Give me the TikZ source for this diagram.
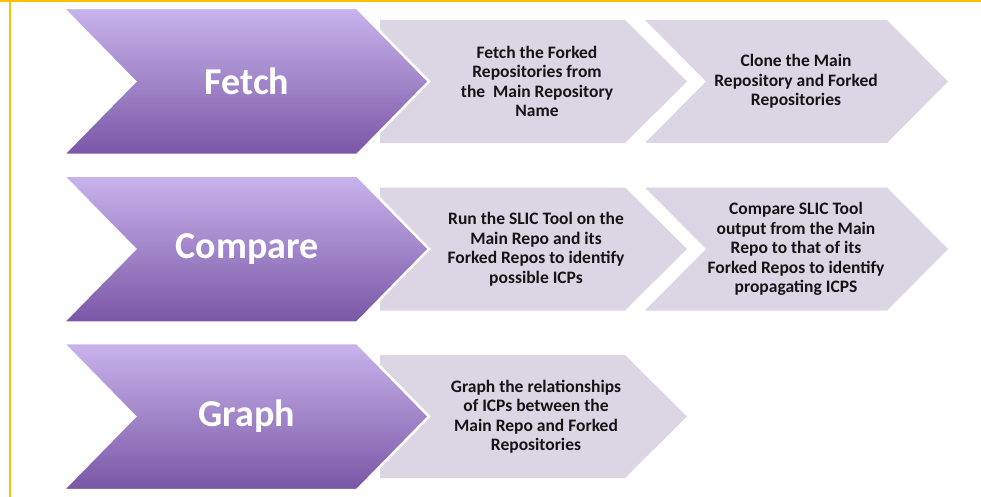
\documentclass[tikz,border=0pt]{standalone}
\usepackage{fontspec}
\setmainfont{Carlito}
\definecolor{framey}{RGB}{255,192,0}
\definecolor{grayfill}{RGB}{220,214,228}
\definecolor{ptop}{RGB}{200,180,236}
\definecolor{pbot}{RGB}{122,86,166}
\definecolor{txtdark}{RGB}{20,20,20}
\tikzset{
  purplebox/.style={top color=ptop, bottom color=pbot, draw=white, line width=2.5pt, line join=miter},
  graybox/.style={fill=grayfill, draw=none},
  bigtxt/.style={text=white, font=\fontsize{38}{42}\selectfont\bfseries, inner sep=0pt},
  smalltxt/.style={text=txtdark, align=center, font=\fontsize{17.5}{19.5}\selectfont\bfseries, inner sep=0pt},
  pics/purplechev/.style={code={
    \path[purplebox] (63,-73.5) -- (357,-73.5) -- (429,0) -- (357,73.5) -- (63,73.5) -- (135,0) -- cycle;}},
  pics/graypent/.style={code={
    \path[graybox] (380,-61.5) -- (625,-61.5) -- (687,0) -- (625,61.5) -- (380,61.5) -- cycle;}},
  pics/graychev/.style={code={
    \path[graybox] (645,-61.5) -- (887,-61.5) -- (948,0) -- (887,61.5) -- (645,61.5) -- (706,0) -- cycle;}}
}
\begin{document}
\begin{tikzpicture}[x=1pt,y=-1pt]
\useasboundingbox (0,0) rectangle (981,497);
\fill[white] (0,0) rectangle (981,497);
% frame
\draw[framey, line width=2pt] (0,1) -- (981,1);
\draw[framey, line width=2pt] (9.5,0) -- (9.5,497);

% row 1
\pic at (0,81.5) {graypent};
\pic at (0,81.5) {purplechev};
\pic at (0,81.5) {graychev};
\node[bigtxt] (fetch) at (247,81.5) {Fetch};
\node[smalltxt] (fetchforks) at (537,81.5) {Fetch the Forked\\Repositories from\\the~ Main Repository\\Name};
\node[smalltxt] (clone) at (796,81.5) {Clone the Main\\Repository and Forked\\Repositories};

% row 2
\pic at (0,249) {graypent};
\pic at (0,249) {purplechev};
\pic at (0,249) {graychev};
\node[bigtxt] (compare) at (247,249) {Compare};
\node[smalltxt] (runslic) at (536,249) {Run the SLIC Tool on the\\Main Repo and its\\Forked Repos to identify\\possible ICPs};
\node[smalltxt] (compslic) at (796,249) {Compare SLIC Tool\\output from the Main\\Repo to that of its\\Forked Repos to identify\\propagating ICPS};

% row 3
\pic at (0,416.5) {graypent};
\pic at (0,416.5) {purplechev};
\node[bigtxt] (graph) at (247,416.5) {Graph};
\node[smalltxt] (graphrel) at (536,416.5) {Graph the relationships\\of ICPs between the\\Main Repo and Forked\\Repositories};
\end{tikzpicture}
\end{document}
